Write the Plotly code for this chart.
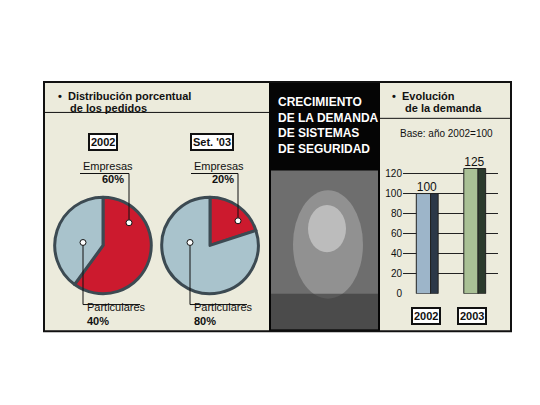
import plotly.graph_objects as go

pie_labels = ['Empresas', 'Particulares']
pie_2002 = [60, 40]
pie_2003 = [20, 80]
pie_titles = ['2002', "Set. '03"]

years = ['2002', '2003']
demand = [100, 125]
yticks = [0, 20, 40, 60, 80, 100, 120]

W, H = 540, 405
def px(x): return x / W
def py(y): return 1 - y / H

RED = '#cc1a2e'
BLUE = '#a9c3cc'
BEIGE = '#ecebdc'
F = 'Liberation Sans'

fig = go.Figure()

# pies
for cx, vals in [(95, pie_2002), (202, pie_2003)]:
    fig.add_trace(go.Pie(
        labels=pie_labels, values=vals, sort=False, direction='clockwise', rotation=0,
        marker=dict(colors=[RED, BLUE], line=dict(color='#3c4a52', width=3)),
        textinfo='none', hoverinfo='label+percent', showlegend=False,
        domain=dict(x=[px(cx - 49), px(cx + 49)], y=[py(290), py(192)])))

# bars: front face + dark side face
front = ['#9db5c9', '#a9c095']
side = ['#2c3848', '#2b3a2c']
fig.add_trace(go.Bar(x=years, y=demand, marker=dict(color=front, line=dict(color='#222', width=1)),
                     width=0.3, offset=-0.22, showlegend=False, hoverinfo='x+y'))
fig.add_trace(go.Bar(x=years, y=demand, marker=dict(color=side, line=dict(color='#222', width=1)),
                     width=0.16, offset=0.08, showlegend=False, hoverinfo='skip'))
fig.add_trace(go.Scatter(x=years, y=demand, mode='text', text=[str(v) for v in demand],
                         textposition='top center', cliponaxis=False, showlegend=False,
                         hoverinfo='skip', textfont=dict(family=F, size=12, color='#111')))
y_top = 290 - 135 * (122 / 120)
fig.update_layout(
    barmode='overlay',
    xaxis=dict(domain=[px(395), px(490)], showticklabels=False, showgrid=False,
               zeroline=False, range=[-0.5, 1.5], fixedrange=True),
    yaxis=dict(domain=[py(290), py(y_top)], range=[0, 135], tickvals=yticks,
               showgrid=True, gridcolor='#222', gridwidth=1, zeroline=False,
               tickfont=dict(family=F, size=10, color='#111'),
               ticks='', fixedrange=True),
)

def rect(x0, x1, y0, y1, **kw):
    return dict(type='rect', xref='paper', yref='paper', x0=px(x0), x1=px(x1), y0=py(y1), y1=py(y0), **kw)
def circ(x0, x1, y0, y1, **kw):
    return dict(type='circle', xref='paper', yref='paper', x0=px(x0), x1=px(x1), y0=py(y1), y1=py(y0), **kw)
def line(x0, x1, y0, y1, w=1):
    return dict(type='line', xref='paper', yref='paper', x0=px(x0), x1=px(x1), y0=py(y0), y1=py(y1),
                line=dict(color='#111', width=w))

NL = dict(width=0)
shapes = [
    rect(36, 261, 75, 328, fillcolor=BEIGE, line=NL, layer='below'),
    rect(372, 503, 75, 328, fillcolor=BEIGE, line=NL, layer='below'),
    rect(261, 372, 75, 328, fillcolor='#050505', line=NL, layer='below'),
    rect(263, 370, 165, 326, fillcolor='#6e6e6e', line=NL),
    circ(285, 355, 185, 295, fillcolor='#9a9a9a', line=NL, opacity=0.8),
    circ(300, 338, 200, 248, fillcolor='#cfcfcf', line=NL, opacity=0.7),
    rect(263, 370, 290, 326, fillcolor='#333333', line=NL, opacity=0.6),
    rect(36, 503, 75, 328, line=dict(color='#111', width=2)),
    line(36, 261, 106, 106),
    line(372, 503, 112, 112),
]
for x0, x1, ytop, ydot, xd in [(72, 121, 168, 218, 121), (183, 230, 168, 216, 230)]:
    shapes.append(line(x0, x1, ytop, ytop))
    shapes.append(line(xd, xd, ytop, ydot))
    shapes.append(circ(xd - 3, xd + 3, ydot - 3, ydot + 3, fillcolor='white', line=dict(color='#111', width=1)))
for xd, ydot in [(75, 238), (182, 238)]:
    shapes.append(line(xd, xd, ydot, 301))
    shapes.append(line(xd, xd + 57, 301, 301))
    shapes.append(circ(xd - 3, xd + 3, ydot - 3, ydot + 3, fillcolor='white', line=dict(color='#111', width=1)))

def ann(x, y, text, size=11, color='#111', bold=False, xanchor='left', **kw):
    return dict(x=px(x), y=py(y), xref='paper', yref='paper', text=f'<b>{text}</b>' if bold else text,
                showarrow=False, xanchor=xanchor, yanchor='middle',
                font=dict(family=F, size=size, color=color), **kw)

annotations = [
    ann(48, 89, '•  Distribución porcentual', 11, bold=True),
    ann(60, 102, 'de los pedidos', 11, bold=True),
    ann(382, 89, '•  Evolución', 11, bold=True),
    ann(395, 102, 'de la demanda', 11, bold=True),
    ann(438, 127, 'Base: año 2002=100', 10, xanchor='center'),
    ann(268, 119, 'CRECIMIENTO<br>DE LA DEMANDA<br>DE SISTEMAS<br>DE SEGURIDAD', 12, color='white', bold=True,
        align='left'),
    ann(73, 160, pie_labels[0], 11),
    ann(118, 174, f'{pie_2002[0]}%', 11, bold=True, xanchor='right'),
    ann(184, 160, pie_labels[0], 11),
    ann(228, 174, f'{pie_2003[0]}%', 11, bold=True, xanchor='right'),
    ann(77, 302, pie_labels[1], 11, yanchor_fix=None) if False else ann(77, 303, pie_labels[1], 11),
    ann(77, 318, f'{pie_2002[1]}%', 11, bold=True),
    ann(184, 303, pie_labels[1], 11),
    ann(184, 318, f'{pie_2003[1]}%', 11, bold=True),
]
for x, t in [(95, pie_titles[0]), (204, pie_titles[1])]:
    annotations.append(ann(x, 136, t, 11, bold=True, xanchor='center', bgcolor='white',
                           bordercolor='#111', borderwidth=2, borderpad=1))
for x, t in [(418, years[0]), (464, years[1])]:
    annotations.append(ann(x, 313, t, 11, bold=True, xanchor='center', bgcolor='white',
                           bordercolor='#111', borderwidth=2, borderpad=1))

fig.update_layout(width=W, height=H, margin=dict(l=0, r=0, t=0, b=0),
                  paper_bgcolor='white', plot_bgcolor='rgba(0,0,0,0)',
                  shapes=shapes, annotations=annotations)

fig.write_html('out.html')
